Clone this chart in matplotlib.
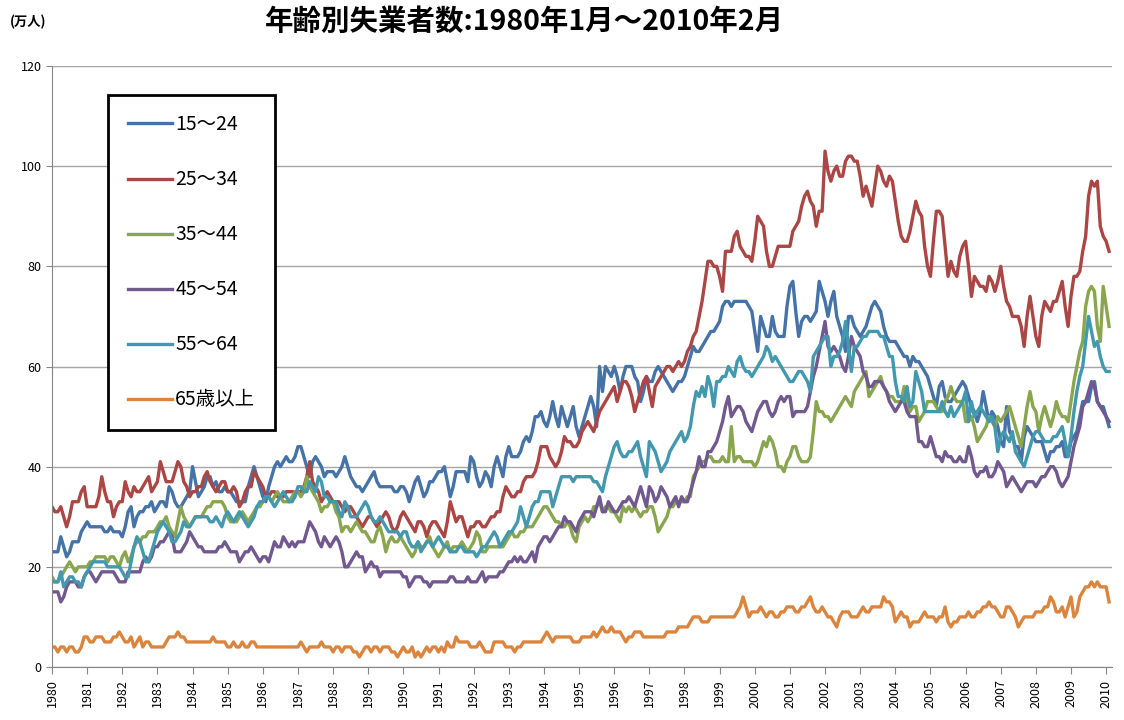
import numpy as np
import matplotlib
matplotlib.use('Agg')
import matplotlib.pyplot as plt

plt.rcParams['font.family'] = ['Noto Sans CJK JP', 'DejaVu Sans']

# monthly figures, 1980-01 .. 2010-02 (万人), one row per year
years = list(range(1980, 2011))
labels = ['15～24', '25～34', '35～44', '45～54', '55～64', '65歳以上']
colors = ['#4572A7', '#AA4643', '#89A54E', '#71588F', '#4198AF', '#DB843D']

age_15_24 = [
    23, 23, 23, 26, 24, 22, 23, 25, 25, 25, 27, 28,
    29, 28, 28, 28, 28, 28, 27, 27, 28, 27, 27, 27,
    26, 28, 31, 32, 28, 30, 31, 31, 32, 32, 33, 31,
    32, 33, 33, 32, 36, 35, 33, 32, 32, 33, 34, 35,
    40, 37, 34, 35, 36, 38, 38, 36, 37, 35, 35, 36,
    35, 35, 34, 33, 33, 33, 33, 36, 38, 40, 38, 36,
    34, 33, 36, 38, 40, 41, 40, 41, 42, 41, 41, 42,
    44, 44, 42, 40, 38, 41, 42, 41, 40, 38, 39, 39,
    39, 38, 39, 40, 42, 40, 38, 37, 36, 36, 35, 36,
    37, 38, 39, 37, 36, 36, 36, 36, 36, 35, 35, 36,
    36, 35, 33, 35, 37, 38, 36, 34, 35, 37, 37, 38,
    39, 39, 40, 37, 34, 36, 39, 39, 39, 39, 37, 42,
    41, 38, 36, 37, 39, 38, 36, 40, 42, 40, 38, 42,
    44, 42, 42, 42, 43, 45, 46, 45, 47, 50, 50, 51,
    49, 48, 50, 53, 50, 48, 52, 50, 48, 50, 52, 48,
    46, 48, 50, 52, 54, 52, 48, 60, 55, 60, 59, 58,
    60, 58, 55, 58, 60, 60, 60, 58, 57, 53, 55, 58,
    57, 57, 59, 60, 59, 58, 57, 56, 55, 56, 57, 57,
    58, 60, 62, 64, 63, 63, 64, 65, 66, 67, 67, 68,
    69, 72, 73, 73, 72, 73, 73, 73, 73, 73, 72, 71,
    67, 63, 70, 68, 66, 66, 70, 67, 66, 66, 66, 72,
    76, 77, 71, 66, 69, 70, 70, 69, 70, 71, 77, 75,
    73, 70, 73, 75, 70, 68, 66, 63, 70, 70, 68, 67,
    66, 67, 68, 70, 72, 73, 72, 71, 68, 66, 65, 65,
    65, 64, 63, 62, 62, 60, 62, 61, 61, 60, 59, 58,
    56, 54, 52, 56, 57, 54, 53, 53, 54, 55, 56, 57,
    56, 54, 52, 51, 49, 51, 55, 52, 49, 51, 50, 48,
    45, 44, 52, 47, 46, 44, 44, 41, 46, 48, 47, 46,
    45, 45, 45, 43, 41, 43, 43, 44, 44, 45, 42, 42,
    45, 46, 47, 50, 53, 53, 53, 56, 57, 53, 52, 52,
    50, 48,
]

age_25_34 = [
    32, 31, 31, 32, 30, 28, 30, 33, 33, 33, 35, 36,
    32, 32, 32, 32, 34, 38, 35, 33, 33, 30, 32, 33,
    33, 37, 35, 34, 36, 35, 35, 36, 37, 38, 35, 36,
    37, 41, 39, 37, 37, 37, 39, 41, 40, 37, 36, 34,
    35, 35, 36, 36, 38, 39, 37, 36, 35, 36, 37, 37,
    35, 35, 36, 35, 32, 33, 35, 36, 36, 39, 38, 37,
    36, 34, 34, 35, 35, 34, 34, 34, 35, 35, 35, 35,
    35, 35, 36, 38, 41, 37, 36, 35, 33, 34, 35, 34,
    33, 33, 33, 32, 31, 32, 32, 31, 30, 29, 28, 29,
    30, 30, 29, 28, 29, 30, 31, 30, 28, 27, 28, 30,
    31, 30, 29, 28, 27, 29, 29, 28, 26, 28, 29, 29,
    28, 27, 26, 29, 33, 31, 29, 30, 30, 28, 26, 28,
    28, 29, 29, 28, 28, 29, 30, 30, 31, 31, 34, 36,
    35, 34, 34, 35, 35, 37, 38, 38, 38, 39, 41, 44,
    44, 44, 42, 41, 40, 41, 43, 46, 45, 45, 44, 44,
    45, 47, 48, 49, 48, 47, 49, 51, 52, 53, 54, 55,
    56, 53, 55, 57, 57, 56, 54, 51, 53, 55, 57, 58,
    55, 52, 56, 57, 58, 59, 60, 60, 59, 60, 61, 60,
    61, 63, 64, 66, 67, 70, 73, 77, 81, 81, 80, 80,
    78, 75, 83, 83, 83, 86, 87, 84, 83, 82, 82, 81,
    85, 90, 89, 88, 83, 80, 80, 82, 84, 84, 84, 84,
    84, 87, 88, 89, 92, 94, 95, 93, 92, 88, 91, 91,
    103, 99, 97, 99, 100, 98, 98, 101, 102, 102, 101, 101,
    98, 94, 96, 94, 92, 96, 100, 99, 97, 96, 98, 97,
    93, 89, 86, 85, 85, 87, 90, 93, 91, 90, 84, 80,
    78, 85, 91, 91, 90, 84, 78, 81, 79, 78, 82, 84,
    85, 80, 74, 78, 77, 76, 76, 75, 78, 77, 75, 77,
    80, 76, 73, 72, 70, 70, 70, 68, 64, 70, 74, 70,
    66, 64, 70, 73, 72, 71, 73, 73, 75, 77, 72, 68,
    74, 78, 78, 79, 83, 86, 94, 97, 96, 97, 88, 86,
    85, 83,
]

age_35_44 = [
    18, 17, 17, 18, 19, 20, 21, 20, 19, 20, 20, 20,
    20, 21, 21, 22, 22, 22, 22, 21, 22, 22, 21, 20,
    22, 23, 21, 22, 24, 25, 25, 26, 26, 27, 27, 27,
    28, 29, 29, 30, 28, 27, 26, 29, 32, 30, 29, 28,
    29, 30, 30, 30, 31, 32, 32, 33, 33, 33, 33, 32,
    30, 29, 29, 29, 30, 31, 30, 29, 30, 31, 32, 32,
    33, 34, 34, 33, 34, 35, 34, 33, 33, 33, 34, 35,
    35, 34, 35, 38, 36, 35, 34, 33, 31, 32, 32, 33,
    33, 31, 30, 27, 28, 28, 27, 28, 29, 28, 27, 27,
    26, 25, 25, 27, 28, 26, 23, 25, 26, 25, 25, 26,
    25, 24, 23, 22, 23, 25, 24, 24, 25, 26, 24, 23,
    22, 23, 24, 25, 23, 24, 24, 24, 25, 24, 23, 24,
    25, 27, 26, 23, 23, 24, 24, 24, 24, 24, 24, 25,
    26, 27, 26, 26, 27, 27, 28, 28, 28, 29, 30, 31,
    32, 32, 31, 30, 29, 29, 28, 28, 29, 28, 26, 25,
    28, 29, 30, 29, 30, 32, 32, 33, 31, 32, 32, 31,
    31, 30, 29, 32, 31, 32, 31, 32, 31, 30, 31, 31,
    32, 32, 30, 27, 28, 29, 30, 32, 32, 33, 33, 33,
    33, 34, 34, 38, 39, 40, 41, 41, 42, 42, 41, 41,
    41, 42, 41, 41, 48, 41, 42, 42, 41, 41, 41, 41,
    40, 41, 43, 45, 44, 46, 45, 43, 40, 40, 39, 41,
    42, 44, 44, 42, 41, 41, 41, 42, 47, 53, 51, 51,
    50, 50, 49, 50, 51, 52, 53, 54, 53, 52, 55, 56,
    57, 58, 59, 54, 55, 56, 57, 58, 56, 55, 54, 54,
    53, 53, 53, 56, 53, 51, 52, 52, 49, 50, 51, 53,
    53, 53, 52, 51, 51, 53, 54, 56, 54, 53, 53, 53,
    49, 49, 50, 48, 45, 46, 47, 48, 50, 49, 48, 50,
    49, 50, 51, 52, 50, 48, 46, 44, 48, 52, 55, 52,
    51, 47, 50, 52, 50, 48, 50, 53, 51, 50, 50, 49,
    53, 57, 60, 63, 65, 72, 75, 76, 75, 68, 65, 76,
    72, 68,
]

age_45_54 = [
    15, 15, 15, 13, 14, 16, 17, 17, 17, 16, 16, 18,
    19, 19, 18, 17, 18, 19, 19, 19, 19, 19, 18, 17,
    17, 17, 19, 19, 19, 19, 19, 21, 22, 21, 22, 24,
    24, 25, 25, 26, 27, 26, 23, 23, 23, 24, 25, 27,
    26, 25, 24, 24, 23, 23, 23, 23, 23, 24, 24, 25,
    24, 23, 23, 23, 21, 22, 23, 23, 24, 23, 22, 21,
    22, 22, 21, 23, 25, 24, 24, 26, 25, 24, 25, 24,
    25, 25, 25, 27, 29, 28, 27, 25, 24, 26, 25, 24,
    25, 26, 25, 23, 20, 20, 21, 22, 23, 22, 22, 19,
    20, 21, 20, 20, 18, 19, 19, 19, 19, 19, 19, 19,
    18, 18, 16, 17, 18, 18, 18, 17, 17, 16, 17, 17,
    17, 17, 17, 17, 18, 18, 17, 17, 17, 17, 18, 17,
    17, 17, 18, 19, 17, 18, 18, 18, 18, 19, 19, 20,
    21, 21, 22, 21, 22, 21, 21, 22, 23, 21, 24, 25,
    26, 26, 25, 26, 27, 28, 28, 30, 29, 29, 28, 27,
    29, 30, 31, 31, 31, 30, 32, 34, 31, 31, 33, 32,
    31, 31, 32, 33, 33, 34, 33, 32, 34, 36, 34, 32,
    36, 35, 33, 34, 36, 35, 34, 32, 33, 34, 32, 34,
    33, 33, 35, 37, 39, 42, 40, 40, 43, 43, 44, 45,
    47, 49, 52, 54, 50, 51, 52, 52, 51, 49, 48, 47,
    49, 51, 52, 53, 53, 51, 50, 51, 53, 54, 53, 54,
    54, 50, 51, 51, 51, 51, 52, 55, 58, 60, 63, 66,
    69, 64, 63, 64, 63, 62, 60, 59, 62, 66, 64, 63,
    62, 59, 58, 56, 56, 57, 57, 57, 56, 55, 53, 52,
    51, 52, 53, 53, 51, 50, 50, 50, 45, 45, 44, 44,
    46, 44, 42, 42, 41, 43, 42, 42, 41, 41, 42, 41,
    41, 44, 42, 39, 38, 39, 39, 40, 38, 38, 39, 41,
    40, 39, 36, 37, 38, 37, 36, 35, 36, 37, 37, 37,
    36, 37, 38, 38, 39, 40, 40, 39, 37, 36, 37, 38,
    41, 44, 46, 48, 52, 53, 55, 57, 56, 53, 52, 51,
    50, 49,
]

age_55_64 = [
    17, 17, 17, 19, 16, 17, 18, 18, 17, 17, 16, 18,
    19, 20, 21, 21, 21, 21, 21, 20, 20, 20, 20, 20,
    19, 18, 18, 21, 24, 26, 25, 23, 21, 21, 23, 25,
    27, 28, 29, 28, 27, 25, 25, 26, 27, 29, 28, 28,
    29, 30, 30, 30, 30, 30, 29, 29, 30, 29, 28, 30,
    31, 30, 29, 30, 31, 30, 29, 28, 29, 30, 32, 33,
    33, 34, 34, 33, 32, 33, 34, 35, 34, 33, 33, 34,
    36, 36, 35, 35, 37, 36, 35, 38, 37, 34, 34, 33,
    33, 33, 31, 30, 33, 32, 30, 30, 30, 31, 32, 33,
    32, 30, 29, 29, 30, 29, 28, 27, 27, 27, 27, 26,
    27, 27, 25, 24, 24, 25, 23, 24, 25, 25, 24, 25,
    26, 25, 24, 24, 23, 23, 23, 24, 24, 23, 23, 23,
    23, 22, 23, 24, 24, 25, 26, 27, 26, 24, 25, 26,
    27, 27, 28, 29, 32, 30, 28, 30, 32, 33, 33, 35,
    35, 35, 35, 32, 34, 36, 38, 38, 38, 38, 37, 38,
    38, 38, 38, 38, 38, 37, 37, 36, 35, 38, 40, 42,
    44, 45, 43, 42, 42, 43, 43, 44, 45, 42, 40, 38,
    45, 44, 43, 41, 39, 40, 41, 43, 44, 45, 46, 47,
    45, 46, 48, 52, 55, 54, 56, 54, 58, 56, 52, 57,
    57, 58, 58, 60, 59, 58, 61, 62, 60, 59, 59, 58,
    59, 60, 61, 62, 64, 63, 61, 62, 61, 60, 59, 58,
    57, 57, 58, 59, 59, 58, 57, 55, 62, 63, 64, 65,
    66, 66, 60, 62, 62, 63, 65, 69, 64, 59, 64, 64,
    65, 66, 66, 67, 67, 67, 67, 66, 66, 64, 62, 62,
    57, 54, 54, 53, 56, 52, 53, 59, 57, 55, 51, 51,
    51, 51, 51, 51, 53, 51, 50, 52, 50, 51, 52, 53,
    55, 49, 53, 50, 51, 52, 51, 50, 49, 50, 48, 43,
    46, 47, 46, 45, 47, 43, 42, 41, 40, 42, 44, 46,
    47, 47, 46, 45, 45, 45, 46, 46, 47, 48, 45, 42,
    46, 51, 55, 58, 60, 65, 70, 67, 64, 65, 62, 60,
    59, 59,
]

age_65_over = [
    4, 4, 3, 4, 4, 3, 4, 4, 3, 3, 4, 6,
    6, 5, 5, 6, 6, 6, 5, 5, 5, 6, 6, 7,
    6, 5, 5, 6, 4, 5, 6, 4, 5, 5, 4, 4,
    4, 4, 4, 5, 6, 6, 6, 7, 6, 6, 5, 5,
    5, 5, 5, 5, 5, 5, 5, 6, 5, 5, 5, 5,
    4, 4, 5, 4, 4, 5, 4, 4, 5, 5, 4, 4,
    4, 4, 4, 4, 4, 4, 4, 4, 4, 4, 4, 4,
    4, 5, 4, 3, 4, 4, 4, 4, 5, 4, 4, 4,
    3, 4, 4, 3, 4, 4, 4, 3, 3, 2, 3, 4,
    4, 3, 4, 4, 3, 4, 4, 4, 3, 3, 2, 3,
    4, 3, 3, 4, 2, 3, 2, 3, 4, 3, 4, 4,
    3, 4, 3, 5, 4, 4, 6, 5, 5, 5, 5, 4,
    4, 4, 5, 4, 3, 3, 3, 5, 5, 5, 5, 4,
    4, 4, 3, 4, 4, 5, 5, 5, 5, 5, 5, 5,
    6, 7, 6, 5, 6, 6, 6, 6, 6, 6, 5, 5,
    5, 6, 6, 6, 6, 7, 6, 7, 8, 7, 7, 8,
    7, 7, 7, 6, 5, 6, 6, 7, 7, 7, 6, 6,
    6, 6, 6, 6, 6, 6, 7, 7, 7, 7, 8, 8,
    8, 8, 9, 10, 10, 10, 9, 9, 9, 10, 10, 10,
    10, 10, 10, 10, 10, 10, 11, 12, 14, 12, 10, 11,
    11, 11, 12, 11, 10, 11, 11, 10, 10, 11, 11, 12,
    12, 12, 11, 11, 12, 12, 13, 14, 12, 11, 11, 12,
    11, 10, 10, 9, 8, 10, 11, 11, 11, 10, 10, 10,
    11, 12, 11, 11, 12, 12, 12, 12, 14, 13, 13, 12,
    9, 10, 11, 10, 10, 8, 9, 9, 9, 10, 11, 10,
    10, 10, 9, 10, 10, 12, 9, 8, 9, 9, 10, 10,
    10, 11, 10, 10, 11, 11, 12, 12, 13, 12, 12, 11,
    10, 10, 12, 12, 11, 10, 8, 9, 10, 10, 10, 10,
    11, 11, 11, 12, 12, 14, 13, 11, 11, 12, 10, 12,
    14, 10, 11, 14, 15, 16, 16, 17, 16, 17, 16, 16,
    16, 13,
]

series = [age_15_24, age_25_34, age_35_44, age_45_54, age_55_64, age_65_over]

fig = plt.figure(figsize=(11.24, 7.2), dpi=100)
ax = fig.add_axes([52 / 1124, 53 / 720, 1060 / 1124, 601 / 720])

for vals, lab, col in zip(series, labels, colors):
    ax.plot(np.arange(len(vals)), vals, color=col, lw=2.4, label=lab,
            solid_joinstyle='round')

ax.set_xlim(0, 362)
ax.set_ylim(0, 120)
ax.set_yticks(range(0, 121, 20))
ax.yaxis.grid(True, color='#a6a6a6', lw=1)
ax.set_axisbelow(True)
ax.set_xticks(np.arange(0, 12 * len(years), 12))
ax.set_xticklabels([str(y) for y in years], rotation=90)
ax.tick_params(axis='x', length=5, color='#868686', labelsize=9, pad=4)
ax.tick_params(axis='y', length=4, color='#868686', labelsize=9)
for s in ['top', 'right']:
    ax.spines[s].set_visible(False)
for s in ['left', 'bottom']:
    ax.spines[s].set_color('#868686')

leg = ax.legend(loc='upper left', bbox_to_anchor=(0.053, 0.952), frameon=True,
                fancybox=False, edgecolor='black', fontsize=14, labelspacing=1.75,
                handlelength=2.3, handletextpad=0.15, borderpad=1.0,
                borderaxespad=0)
leg.get_frame().set_linewidth(2)
leg.get_frame().set_alpha(1)

fig.text(0.467, 0.969, '年齢別失業者数:1980年1月～2010年2月', fontsize=20.5,
         fontweight='bold', ha='center', va='center')
fig.text(10 / 1124, 0.969, '(万人)', fontsize=9.5, fontweight='bold',
         ha='left', va='center')

fig.savefig('out.png', dpi=100)
